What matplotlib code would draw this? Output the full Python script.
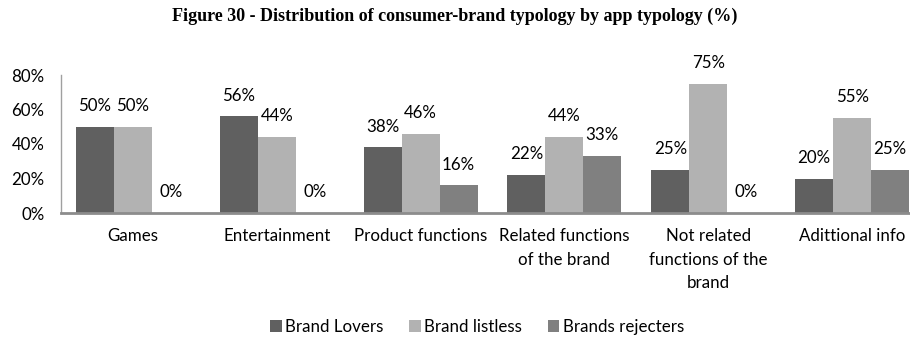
import matplotlib
matplotlib.use("Agg")
import matplotlib.pyplot as plt
import numpy as np

categories = ["Games", "Entertainment", "Product functions",
              "Related functions\nof the brand",
              "Not related\nfunctions of the\nbrand",
              "Adittional info"]
series_names = ["Brand Lovers", "Brand listless", "Brands rejecters"]
brand_lovers = [50, 56, 38, 22, 25, 20]
brand_listless = [50, 44, 46, 44, 75, 55]
brands_rejecters = [0, 0, 16, 33, 0, 25]
yticks = [0, 20, 40, 60, 80]
colors = ["#606060", "#b2b2b2", "#808080"]

plt.rcParams["font.family"] = ["Lato", "DejaVu Sans"]
FS = 12.2

fig = plt.figure(figsize=(9.10, 3.43), dpi=100)
ax = fig.add_axes([61 / 910, 130 / 343, 863 / 910, 138 / 343])

x = np.arange(len(categories))
w = 0.264
series = [brand_lovers, brand_listless, brands_rejecters]
for i, (vals, name, c) in enumerate(zip(series, series_names, colors)):
    pos = x + (i - 1) * w
    ax.bar(pos, vals, width=w, color=c, label=name, zorder=2)
    for px, v in zip(pos, vals):
        ax.annotate(f"{v}%", (px, v), xytext=(0, 15), textcoords="offset points",
                    ha="center", va="center", fontsize=FS, color="#000000")

ax.set_xlim(-0.5, len(categories) - 0.5)
ax.set_ylim(0, 80)
ax.set_yticks(yticks)
ax.set_yticklabels([f"{t}%" for t in yticks], fontsize=FS)
ax.set_xticks(x)
ax.set_xticklabels(categories, fontsize=FS, linespacing=1.58, va="top")
ax.tick_params(axis="y", length=0, pad=12)
ax.tick_params(axis="x", length=0, pad=11)

for s in ["top", "right"]:
    ax.spines[s].set_visible(False)
ax.spines["left"].set_color("#a0a0a0")
ax.spines["left"].set_linewidth(1.0)
ax.spines["bottom"].set_color("#8c8c8c")
ax.spines["bottom"].set_linewidth(2.0)

fig.text(0.5, 1 - 16 / 343, "Figure 30 - Distribution of consumer-brand typology by app typology (%)",
         ha="center", va="center", fontsize=13, fontweight="bold",
         family=["Liberation Serif", "DejaVu Serif"])

fig.legend(loc="center", bbox_to_anchor=(477 / 910, 1 - 327 / 343), ncol=3, frameon=False,
           fontsize=FS, handlelength=0.7, handleheight=0.7, handletextpad=0.2,
           columnspacing=1.5)

fig.savefig("out.png", dpi=100)
